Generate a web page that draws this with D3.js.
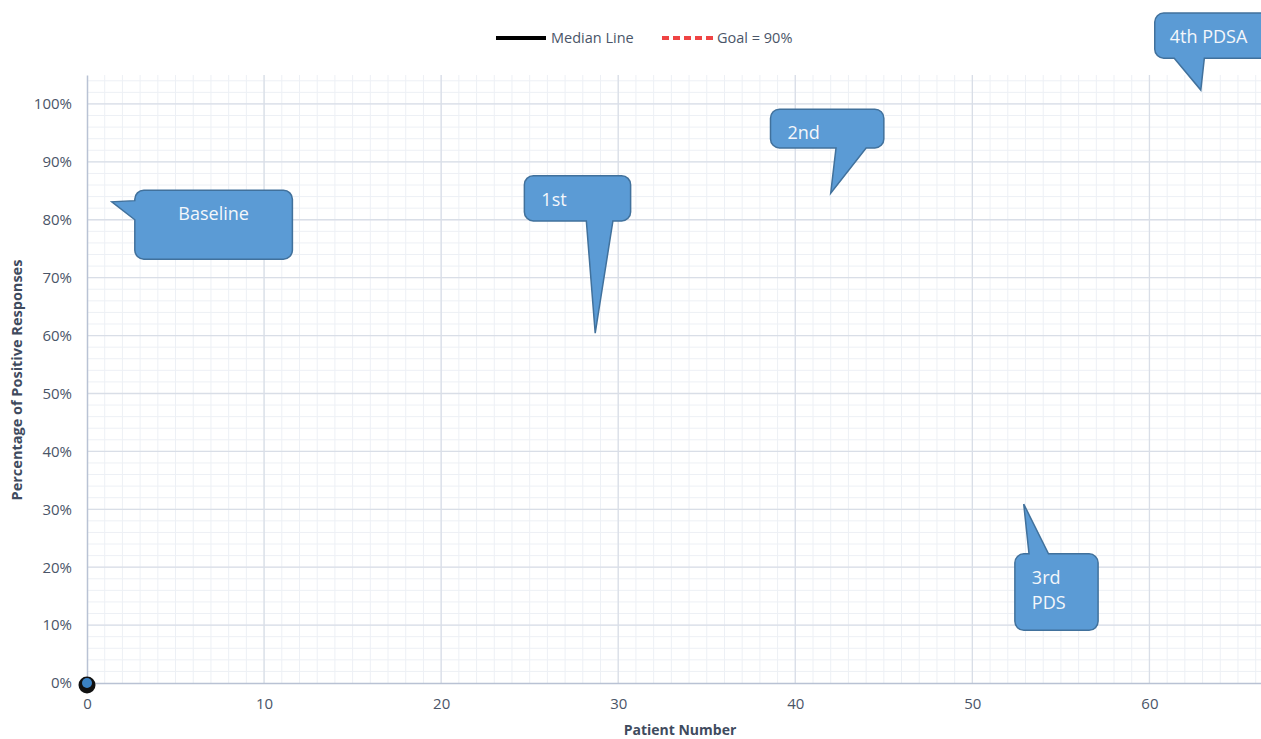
<!DOCTYPE html>
<html>
<head>
<meta charset="utf-8">
<script src="https://cdn.jsdelivr.net/npm/d3@7"></script>
<style>
  body { margin: 0; background: #fff; }
  svg { display: block; font-family: "Open Sans", sans-serif; }
</style>
</head>
<body>
<svg id="chart" width="1261" height="739"></svg>
<script>
// data
const patients = [0];
const responses = [0];
const xTicks = [0, 10, 20, 30, 40, 50, 60];
const yTicks = [0, 10, 20, 30, 40, 50, 60, 70, 80, 90, 100];
const legendItems = ["Median Line", "Goal = 90%"];

// callouts in data units: box [x0, x1, yTop, yBottom], tail base, tip
const calloutLabels = [["Baseline"], ["1st"], ["2nd"], ["3rd", "PDS"], ["4th PDSA"]];
const calloutBoxes = [[2.7, 11.6, 85.1, 73.2], [24.7, 30.7, 87.6, 79.8], [38.6, 45.0, 99.1, 92.4], [52.4, 57.1, 22.3, 9.1], [60.3, 69.0, 115.7, 107.9]];
const calloutSides = ["left", "bottom", "bottom", "top", "bottom"];
const calloutBases = [[83.3, 80.0], [28.2, 29.7], [42.3, 44.0], [53.2, 54.3], [61.4, 63.1]];
const calloutTips = [[1.4, 83.1], [28.7, 60.4], [42.0, 84.6], [52.9, 30.9], [62.9, 102.4]];

const svg = d3.select("#chart");
const margin = { left: 87, right: 0, top: 75, bottom: 56 };
const W = 1261, H = 739;

const x = d3.scaleLinear().domain([0, 66.3]).range([margin.left, W - margin.right]);
const y = d3.scaleLinear().domain([0, 105]).range([H - margin.bottom, margin.top]);

// minor grid
const g = svg.append("g");
g.selectAll(".vminor").data(d3.range(1, 67)).enter().append("line")
  .attr("x1", d => x(d)).attr("x2", d => x(d))
  .attr("y1", y(0)).attr("y2", y(105))
  .attr("stroke", "#edf0f5").attr("stroke-width", 1);
g.selectAll(".hminor").data(d3.range(2, 105, 2)).enter().append("line")
  .attr("x1", x(0)).attr("x2", W)
  .attr("y1", d => y(d)).attr("y2", d => y(d))
  .attr("stroke", "#edf0f5").attr("stroke-width", 1);
// major grid
g.selectAll(".vmajor").data(xTicks.slice(1)).enter().append("line")
  .attr("x1", d => x(d)).attr("x2", d => x(d))
  .attr("y1", y(0)).attr("y2", y(105))
  .attr("stroke", "#d9dee7").attr("stroke-width", 1.3);
g.selectAll(".hmajor").data(yTicks.slice(1)).enter().append("line")
  .attr("x1", x(0)).attr("x2", W)
  .attr("y1", d => y(d)).attr("y2", d => y(d))
  .attr("stroke", "#d9dee7").attr("stroke-width", 1.3);

// axes
const xAxis = svg.append("g").attr("transform", `translate(0,${y(0)})`)
  .call(d3.axisBottom(x).tickValues(xTicks).tickSize(0).tickPadding(15));
const yAxis = svg.append("g").attr("transform", `translate(${x(0)},0)`)
  .call(d3.axisLeft(y).tickValues(yTicks).tickSize(0).tickPadding(15).tickFormat(d => d + "%"));
[xAxis, yAxis].forEach(a => {
  a.select(".domain").attr("stroke", "#b9c2d4").attr("stroke-width", 1.5);
  a.selectAll("text").attr("fill", "#4a5568").attr("font-size", 15)
    .attr("font-family", "Open Sans, sans-serif");
});

svg.append("text").attr("x", 680).attr("y", 735)
  .attr("text-anchor", "middle").attr("font-size", 14).attr("font-weight", "bold")
  .attr("fill", "#3f4b5e").text("Patient Number");
svg.append("text").attr("transform", "translate(22,380) rotate(-90)")
  .attr("text-anchor", "middle").attr("font-size", 14.5).attr("font-weight", "bold")
  .attr("fill", "#3f4b5e").text("Percentage of Positive Responses");

// legend
const lg = svg.append("g");
lg.append("line").attr("x1", 496).attr("x2", 546).attr("y1", 38).attr("y2", 38)
  .attr("stroke", "#000").attr("stroke-width", 4);
lg.append("text").attr("x", 551).attr("y", 43).attr("font-size", 14.5)
  .attr("fill", "#4a5568").text(legendItems[0]);
lg.append("line").attr("x1", 662).attr("x2", 713).attr("y1", 38).attr("y2", 38)
  .attr("stroke", "#ef4444").attr("stroke-width", 4).attr("stroke-dasharray", "7,4");
lg.append("text").attr("x", 717).attr("y", 43).attr("font-size", 14.5)
  .attr("fill", "#4a5568").text(legendItems[1]);

// data point
patients.forEach((p, i) => {
  svg.append("circle").attr("cx", x(p)).attr("cy", y(responses[i]) + 2).attr("r", 8.5)
    .attr("fill", "#111");
  svg.append("circle").attr("cx", x(p)).attr("cy", y(responses[i])).attr("r", 5)
    .attr("fill", "#3b82c4");
});

// callout shapes
function calloutPath(box, side, base, tip) {
  const x0 = x(box[0]), x1 = x(box[1]), y0 = y(box[2]), y1 = y(box[3]);
  const r = 9, tx = x(tip[0]), ty = y(tip[1]);
  const p = d3.path();
  p.moveTo(x0 + r, y0);
  if (side === "top") {
    p.lineTo(x(base[0]), y0); p.lineTo(tx, ty); p.lineTo(x(base[1]), y0);
  }
  p.lineTo(x1 - r, y0); p.arcTo(x1, y0, x1, y0 + r, r);
  p.lineTo(x1, y1 - r); p.arcTo(x1, y1, x1 - r, y1, r);
  if (side === "bottom") {
    p.lineTo(x(base[1]), y1); p.lineTo(tx, ty); p.lineTo(x(base[0]), y1);
  }
  p.lineTo(x0 + r, y1); p.arcTo(x0, y1, x0, y1 - r, r);
  if (side === "left") {
    p.lineTo(x0, y(base[1])); p.lineTo(tx, ty); p.lineTo(x0, y(base[0]));
  }
  p.lineTo(x0, y0 + r); p.arcTo(x0, y0, x0 + r, y0, r);
  p.closePath();
  return p.toString();
}

const cg = svg.append("g");
calloutLabels.forEach((lines, i) => {
  const box = calloutBoxes[i];
  cg.append("path").attr("d", calloutPath(box, calloutSides[i], calloutBases[i], calloutTips[i]))
    .attr("fill", "#5b9bd5").attr("stroke", "#41719c").attr("stroke-width", 1.5);
  const centered = i === 0;
  const tx = centered ? (x(box[0]) + x(box[1])) / 2 : x(box[0]) + (i === 4 ? 15 : 17);
  lines.forEach((t, j) => {
    cg.append("text").attr("x", tx).attr("y", y(box[2]) + 30 + j * 25)
      .attr("text-anchor", centered ? "middle" : "start")
      .attr("font-size", 18).attr("fill", "#f4f7fb").text(t);
  });
});
</script>
</body>
</html>
